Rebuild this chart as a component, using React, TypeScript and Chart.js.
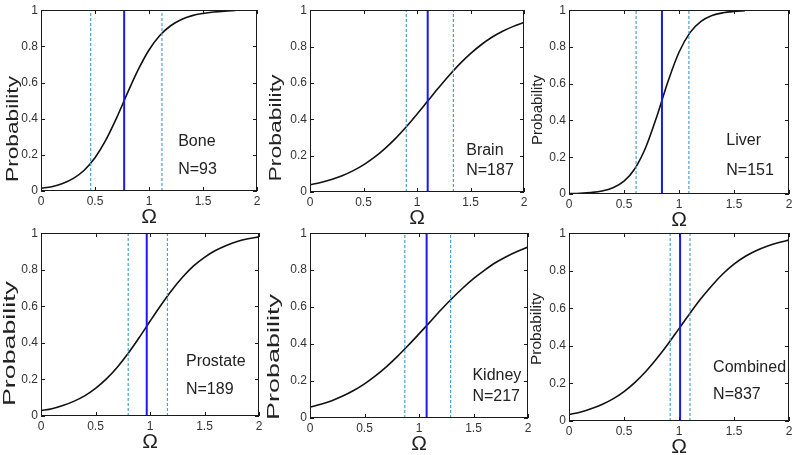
import React, { useEffect, useRef } from "react";
import { Chart, registerables } from "chart.js";

Chart.register(...registerables);

// ---- data ----
const omegaGrid = [0, 0.1, 0.2, 0.3, 0.4, 0.5, 0.6, 0.7, 0.8, 0.9, 1.0, 1.1, 1.2, 1.3, 1.4, 1.5, 1.6, 1.7, 1.8, 1.9, 2.0];

const boneProb = [0.015, 0.024, 0.042, 0.07, 0.115, 0.184, 0.281, 0.404, 0.541, 0.671, 0.78, 0.86, 0.914, 0.949, 0.97, 0.982, 0.99, 0.995, 0.998];
const brainProb = [0.04, 0.052, 0.069, 0.089, 0.116, 0.149, 0.19, 0.239, 0.295, 0.359, 0.428, 0.5, 0.572, 0.641, 0.705, 0.761, 0.81, 0.851, 0.884, 0.911, 0.933];
const liverProb = [0.002, 0.004, 0.008, 0.016, 0.034, 0.07, 0.139, 0.257, 0.425, 0.612, 0.771, 0.878, 0.939, 0.971, 0.986, 0.993, 0.997];
const prostateProb = [0.029, 0.04, 0.057, 0.08, 0.11, 0.151, 0.203, 0.267, 0.343, 0.428, 0.518, 0.606, 0.688, 0.76, 0.821, 0.868, 0.905, 0.933, 0.955, 0.97, 0.98];
const kidneyProb = [0.058, 0.074, 0.094, 0.119, 0.149, 0.185, 0.228, 0.277, 0.332, 0.392, 0.455, 0.519, 0.584, 0.645, 0.702, 0.754, 0.799, 0.84, 0.873, 0.901, 0.925];
const combinedProb = [0.035, 0.047, 0.065, 0.088, 0.118, 0.157, 0.206, 0.265, 0.334, 0.41, 0.492, 0.574, 0.652, 0.722, 0.784, 0.835, 0.876, 0.907, 0.931, 0.949, 0.963];

const panelProbs = [boneProb, brainProb, liverProb, prostateProb, kidneyProb, combinedProb];
const panelNames = ["Bone", "Brain", "Liver", "Prostate", "Kidney", "Combined"];
const panelCounts = ["N=93", "N=187", "N=151", "N=189", "N=217", "N=837"];
const thresholds = [0.77, 1.1, 0.845, 0.97, 1.07, 1.01];
const lowerBounds = [0.46, 0.9, 0.61, 0.8, 0.87, 0.92];
const upperBounds = [1.12, 1.34, 1.09, 1.16, 1.29, 1.1];

const xTickValues = [0, 0.5, 1, 1.5, 2];
const xTickLabels = ["0", "0.5", "1", "1.5", "2"];
const yTickValues = [0, 0.2, 0.4, 0.6, 0.8, 1];
const yTickLabels = ["0", "0.2", "0.4", "0.6", "0.8", "1"];
const xTitle = "Ω";
const yTitle = "Probability";

// ---- layout (pixel boxes of each plot area: left, top, right, bottom) ----
const panelBoxes = [
  [41, 9, 257, 191],
  [310, 9, 524, 192],
  [569, 9, 789, 194],
  [41, 232, 259, 416],
  [310, 232, 528, 418],
  [569, 232, 789, 421],
];
// label anchor positions in data units: [x, yName, yCount]
const labelAnchors = [
  [1.27, 0.275, 0.117],
  [1.46, 0.23, 0.12],
  [1.43, 0.29, 0.13],
  [1.33, 0.3, 0.147],
  [1.49, 0.23, 0.115],
  [1.31, 0.287, 0.138],
];
// y-title placement per panel (page px center), font size and drawn length
const yTitleCenters = [
  [13.5, 129],
  [276.5, 128],
  [538, 110],
  [10, 343.5],
  [274.5, 357],
  [537.5, 329],
];
const yTitleSizes = [16, 16, 14, 17, 17, 14];
const yTitleLengths = [106, 107, 70, 125, 126, 72];

const FONT = 'Arial, "Liberation Sans", Helvetica, sans-serif';
const PAD_LEFT = 50;
const PAD_TOP = 9;
const PAD_RIGHT = 8;
const X_AXIS_H = 34;

function Panel({ idx }: { idx: number }) {
  const ref = useRef<HTMLCanvasElement | null>(null);
  const [L, T, R, B] = panelBoxes[idx];
  const cw = R - L + PAD_LEFT + PAD_RIGHT;
  const ch = B - T + PAD_TOP + X_AXIS_H;
  const offX = L - PAD_LEFT;
  const offY = T - PAD_TOP;

  useEffect(() => {
    const canvas = ref.current;
    if (!canvas) return;
    const probs = panelProbs[idx];
    const curve = probs.map((p, i) => ({ x: omegaGrid[i], y: p }));
    const vline = (v: number) => [
      { x: v, y: 0 },
      { x: v, y: 1 },
    ];
    const [lx, ly1, ly2] = labelAnchors[idx];

    const decor = {
      id: "decor",
      afterDraw(chart: any) {
        const ctx: CanvasRenderingContext2D = chart.ctx;
        const a = chart.chartArea;
        const xs = chart.scales.x;
        const ys = chart.scales.y;
        ctx.save();
        ctx.setLineDash([]);
        ctx.globalAlpha = 1;
        ctx.fillStyle = "#1a1a1a";
        const l = Math.round(a.left);
        const t = Math.round(a.top);
        const r = Math.round(a.right);
        const b = Math.round(a.bottom);
        // box
        ctx.fillRect(l, t, r - l, 1);
        ctx.fillRect(l, b - 1, r - l, 1);
        ctx.fillRect(l, t, 1, b - t);
        ctx.fillRect(r - 1, t, 1, b - t);
        // inner tick marks
        const tl = 4;
        xTickValues.forEach((v) => {
          const px = Math.round(xs.getPixelForValue(v));
          ctx.fillRect(px, b - tl, 1, tl);
          ctx.fillRect(px, t, 1, tl);
        });
        yTickValues.forEach((v) => {
          const py = Math.round(ys.getPixelForValue(v));
          ctx.fillRect(l, py, tl, 1);
          ctx.fillRect(r - tl, py, tl, 1);
        });
        // annotations
        ctx.fillStyle = "#222";
        ctx.font = `16px ${FONT}`;
        ctx.textAlign = "left";
        ctx.textBaseline = "middle";
        ctx.fillText(panelNames[idx], xs.getPixelForValue(lx), ys.getPixelForValue(ly1));
        ctx.fillText(panelCounts[idx], xs.getPixelForValue(lx), ys.getPixelForValue(ly2));
        // y title (stretched along its length like the source)
        const [tcx, tcy] = yTitleCenters[idx];
        ctx.font = `${yTitleSizes[idx]}px ${FONT}`;
        const natural = ctx.measureText(yTitle).width;
        ctx.translate(tcx - offX, tcy - offY);
        ctx.rotate(-Math.PI / 2);
        ctx.scale(yTitleLengths[idx] / natural, 1);
        ctx.textAlign = "center";
        ctx.fillText(yTitle, 0, 0);
        ctx.restore();
      },
    };

    const chart = new Chart(canvas, {
      type: "line",
      data: {
        datasets: [
          { data: vline(thresholds[idx]), borderColor: "#1a1ae6", borderWidth: 2, pointRadius: 0 },
          { data: vline(lowerBounds[idx]), borderColor: "#4a9fd8", borderWidth: 1.2, borderDash: [3, 2], pointRadius: 0 },
          { data: vline(upperBounds[idx]), borderColor: "#4a9fd8", borderWidth: 1.2, borderDash: [3, 2], pointRadius: 0 },
          { data: curve, borderColor: "#111", borderWidth: 1.6, pointRadius: 0, cubicInterpolationMode: "monotone" },
        ],
      },
      options: {
        responsive: false,
        animation: false,
        devicePixelRatio: 1,
        parsing: false as any,
        layout: { padding: { top: PAD_TOP, right: PAD_RIGHT, left: 0, bottom: 0 } },
        plugins: { legend: { display: false }, tooltip: { enabled: false } },
        scales: {
          x: {
            type: "linear",
            min: 0,
            max: 2,
            grid: { display: false, drawTicks: false },
            border: { display: false },
            afterBuildTicks: (s: any) => {
              s.ticks = xTickValues.map((v) => ({ value: v }));
            },
            afterFit: (s: any) => {
              s.height = X_AXIS_H;
            },
            ticks: {
              padding: 3,
              color: "#333",
              font: { size: 12, family: FONT },
              maxRotation: 0,
              autoSkip: false,
              callback: (_v: any, i: number) => xTickLabels[i],
            },
            title: { display: true, text: xTitle, color: "#222", font: { size: 21, family: FONT, lineHeight: 0.7 }, padding: 0 },
          },
          y: {
            type: "linear",
            min: 0,
            max: 1,
            grid: { display: false, drawTicks: false },
            border: { display: false },
            afterBuildTicks: (s: any) => {
              s.ticks = yTickValues.map((v) => ({ value: v }));
            },
            afterFit: (s: any) => {
              s.width = PAD_LEFT;
            },
            ticks: {
              padding: 3,
              color: "#333",
              font: { size: 12, family: FONT },
              autoSkip: false,
              callback: (_v: any, i: number) => yTickLabels[i],
            },
          },
        },
      },
      plugins: [decor],
    });
    return () => chart.destroy();
  }, [idx]);

  return (
    <canvas
      ref={ref}
      width={cw}
      height={ch}
      style={{ position: "absolute", left: offX, top: offY, width: cw, height: ch }}
    />
  );
}

export default function App() {
  return (
    <div style={{ position: "fixed", left: 0, top: 0, width: 800, height: 455, background: "#fff", overflow: "hidden" }}>
      {panelNames.map((_, i) => (
        <Panel key={i} idx={i} />
      ))}
    </div>
  );
}
